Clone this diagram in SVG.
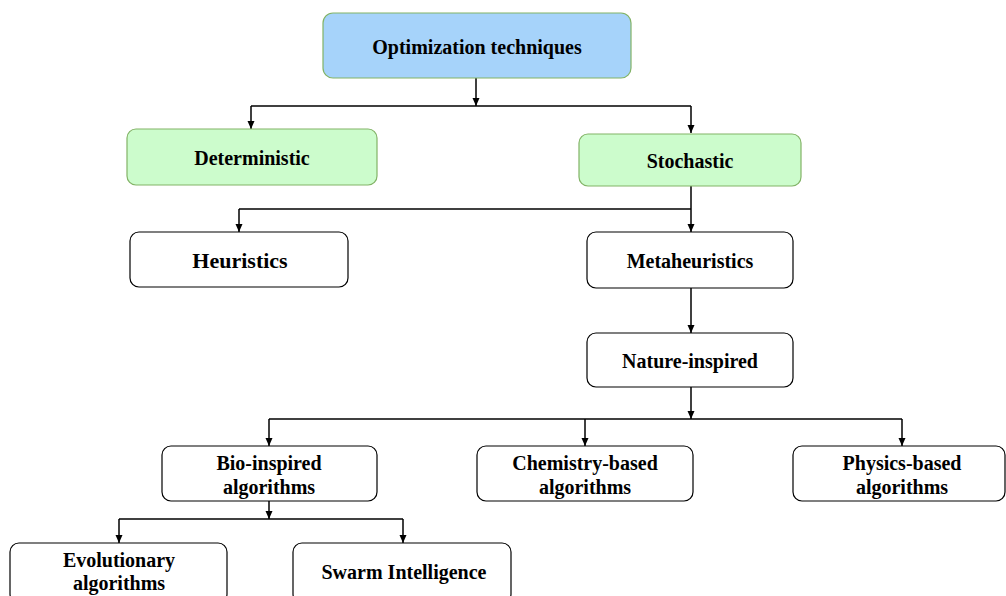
<svg xmlns="http://www.w3.org/2000/svg" width="1006" height="596" viewBox="0 0 1006 596">
<defs>
<marker id="ah" viewBox="0 0 8 10" refX="8" refY="5" markerWidth="8" markerHeight="10" markerUnits="userSpaceOnUse" orient="auto">
<path d="M0,1.5 L8,5 L0,8.5 Z" fill="#000"/>
</marker>
<style>
.n{fill:#fff;stroke:#000;stroke-width:1.2}
.g{fill:#ccfccc;stroke:#82b366;stroke-width:1.2}
.b{fill:#a6d3fa;stroke:#82b366;stroke-width:1.2}
.t{font-family:"Liberation Serif","Times New Roman",serif;font-weight:bold;font-size:20px;fill:#000;text-anchor:middle}
.c{fill:none;stroke:#000;stroke-width:1.5}
</style>
</defs>
<rect width="1006" height="596" fill="#fff"/>
<g id="connectors">
<path class="c" d="M476,78 V106" marker-end="url(#ah)"/>
<path class="c" d="M251,106 H691"/>
<path class="c" d="M251,106 V129" marker-end="url(#ah)"/>
<path class="c" d="M691,106 V133" marker-end="url(#ah)"/>
<path class="c" d="M691,186 V232" marker-end="url(#ah)"/>
<path class="c" d="M239,209 H691"/>
<path class="c" d="M239,209 V232" marker-end="url(#ah)"/>
<path class="c" d="M691,288 V333" marker-end="url(#ah)"/>
<path class="c" d="M691,387 V419" marker-end="url(#ah)"/>
<path class="c" d="M269,419 H902"/>
<path class="c" d="M269,419 V446" marker-end="url(#ah)"/>
<path class="c" d="M585,419 V446" marker-end="url(#ah)"/>
<path class="c" d="M902,419 V446" marker-end="url(#ah)"/>
<path class="c" d="M269,501 V519" marker-end="url(#ah)"/>
<path class="c" d="M119,519 H403"/>
<path class="c" d="M119,519 V543" marker-end="url(#ah)"/>
<path class="c" d="M403,519 V543" marker-end="url(#ah)"/>
</g>
<g id="optimization"><rect class="b" x="323" y="13" width="308" height="65" rx="10"/><text class="t" x="477" y="54">Optimization techniques</text></g>
<g id="deterministic"><rect class="g" x="127" y="129" width="250" height="56" rx="9"/><text class="t" x="252" y="165">Deterministic</text></g>
<g id="stochastic"><rect class="g" x="579" y="134" width="222" height="52" rx="9"/><text class="t" x="690" y="168">Stochastic</text></g>
<g id="heuristics"><rect class="n" x="130" y="232" width="218" height="55" rx="9"/><text class="t" x="240" y="268" style="font-size:22px">Heuristics</text></g>
<g id="metaheuristics"><rect class="n" x="587" y="232" width="206" height="56" rx="9"/><text class="t" x="690" y="268">Metaheuristics</text></g>
<g id="nature"><rect class="n" x="587" y="333" width="206" height="54" rx="9"/><text class="t" x="690" y="368">Nature-inspired</text></g>
<g id="bio"><rect class="n" x="162" y="446" width="215" height="55" rx="9"/><text class="t" x="269" y="470">Bio-inspired</text><text class="t" x="269" y="494">algorithms</text></g>
<g id="chemistry"><rect class="n" x="477" y="446" width="216" height="55" rx="9"/><text class="t" x="585" y="470">Chemistry-based</text><text class="t" x="585" y="494">algorithms</text></g>
<g id="physics"><rect class="n" x="793" y="446" width="212" height="55" rx="9"/><text class="t" x="902" y="470">Physics-based</text><text class="t" x="902" y="494">algorithms</text></g>
<g id="evolutionary"><rect class="n" x="10" y="543" width="217" height="60" rx="9"/><text class="t" x="119" y="567">Evolutionary</text><text class="t" x="119" y="590">algorithms</text></g>
<g id="swarm"><rect class="n" x="293" y="543" width="218" height="60" rx="9"/><text class="t" x="404" y="579">Swarm Intelligence</text></g>
</svg>
